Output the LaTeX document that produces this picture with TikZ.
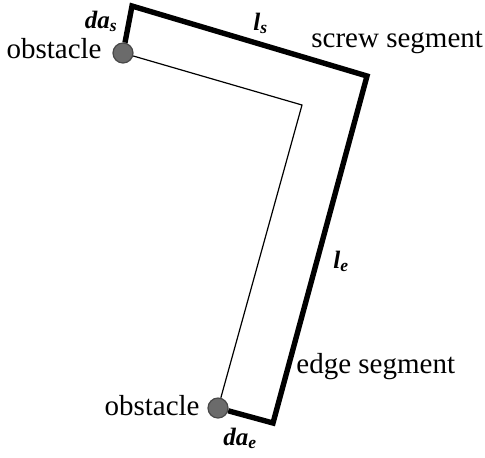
\documentclass[tikz,border=0pt]{standalone}
\usepackage{fontspec}
\setmainfont{Liberation Serif}
\usepackage{tikz}
\usetikzlibrary{positioning}
\definecolor{obsgray}{HTML}{6B6B6B}
\definecolor{obsedge}{HTML}{484848}

\begin{document}
\begin{tikzpicture}[x=0.5pt, y=-0.5pt,
    obstacle/.style={circle, draw=obsedge, fill=obsgray, line width=0.6pt, minimum size=10pt, inner sep=0pt},
    dislocation/.style={line width=2.7pt, line join=miter},
    guide/.style={line width=0.6pt},
    lbl/.style={font=\fontsize{14.5}{17}\selectfont, inner sep=0pt},
    sym/.style={font=\fontsize{12.5}{14}\selectfont\bfseries\itshape, inner sep=0pt},
]
    \useasboundingbox (0,0) rectangle (485,457);

    % obstacles and corners
    \node[obstacle] (otop) at (123,53) {};
    \node[obstacle] (obot) at (218,408) {};
    \coordinate (ctop) at (132,6);
    \coordinate (cright) at (367,76);
    \coordinate (cbot) at (273,423);
    \coordinate (cin) at (302,105);

    % straight line between obstacles
    \draw[guide] (otop) -- (cin) -- (obot);
    % bowed-out dislocation
    \draw[dislocation] (otop) -- (ctop) -- (cright) -- (cbot) -- (obot);

    % labels
    \node[lbl, anchor=base east] (otoptxt) at (102,58) {obstacle};
    \node[lbl, anchor=base east] (obottxt) at (200,415) {obstacle};
    \node[lbl, anchor=base west] (screwtxt) at (311,47) {screw segment};
    \node[lbl, anchor=base west] (edgetxt) at (296,373) {edge segment};
    \node[sym, anchor=base east] (das) at (118,28) {da\textsubscript{s}};
    \node[sym, anchor=base west] (ls) at (253,30) {l\textsubscript{s}};
    \node[sym, anchor=base west] (le) at (333,268) {l\textsubscript{e}};
    \node[sym, anchor=base west] (dae) at (223,445) {da\textsubscript{e}};
\end{tikzpicture}
\end{document}
